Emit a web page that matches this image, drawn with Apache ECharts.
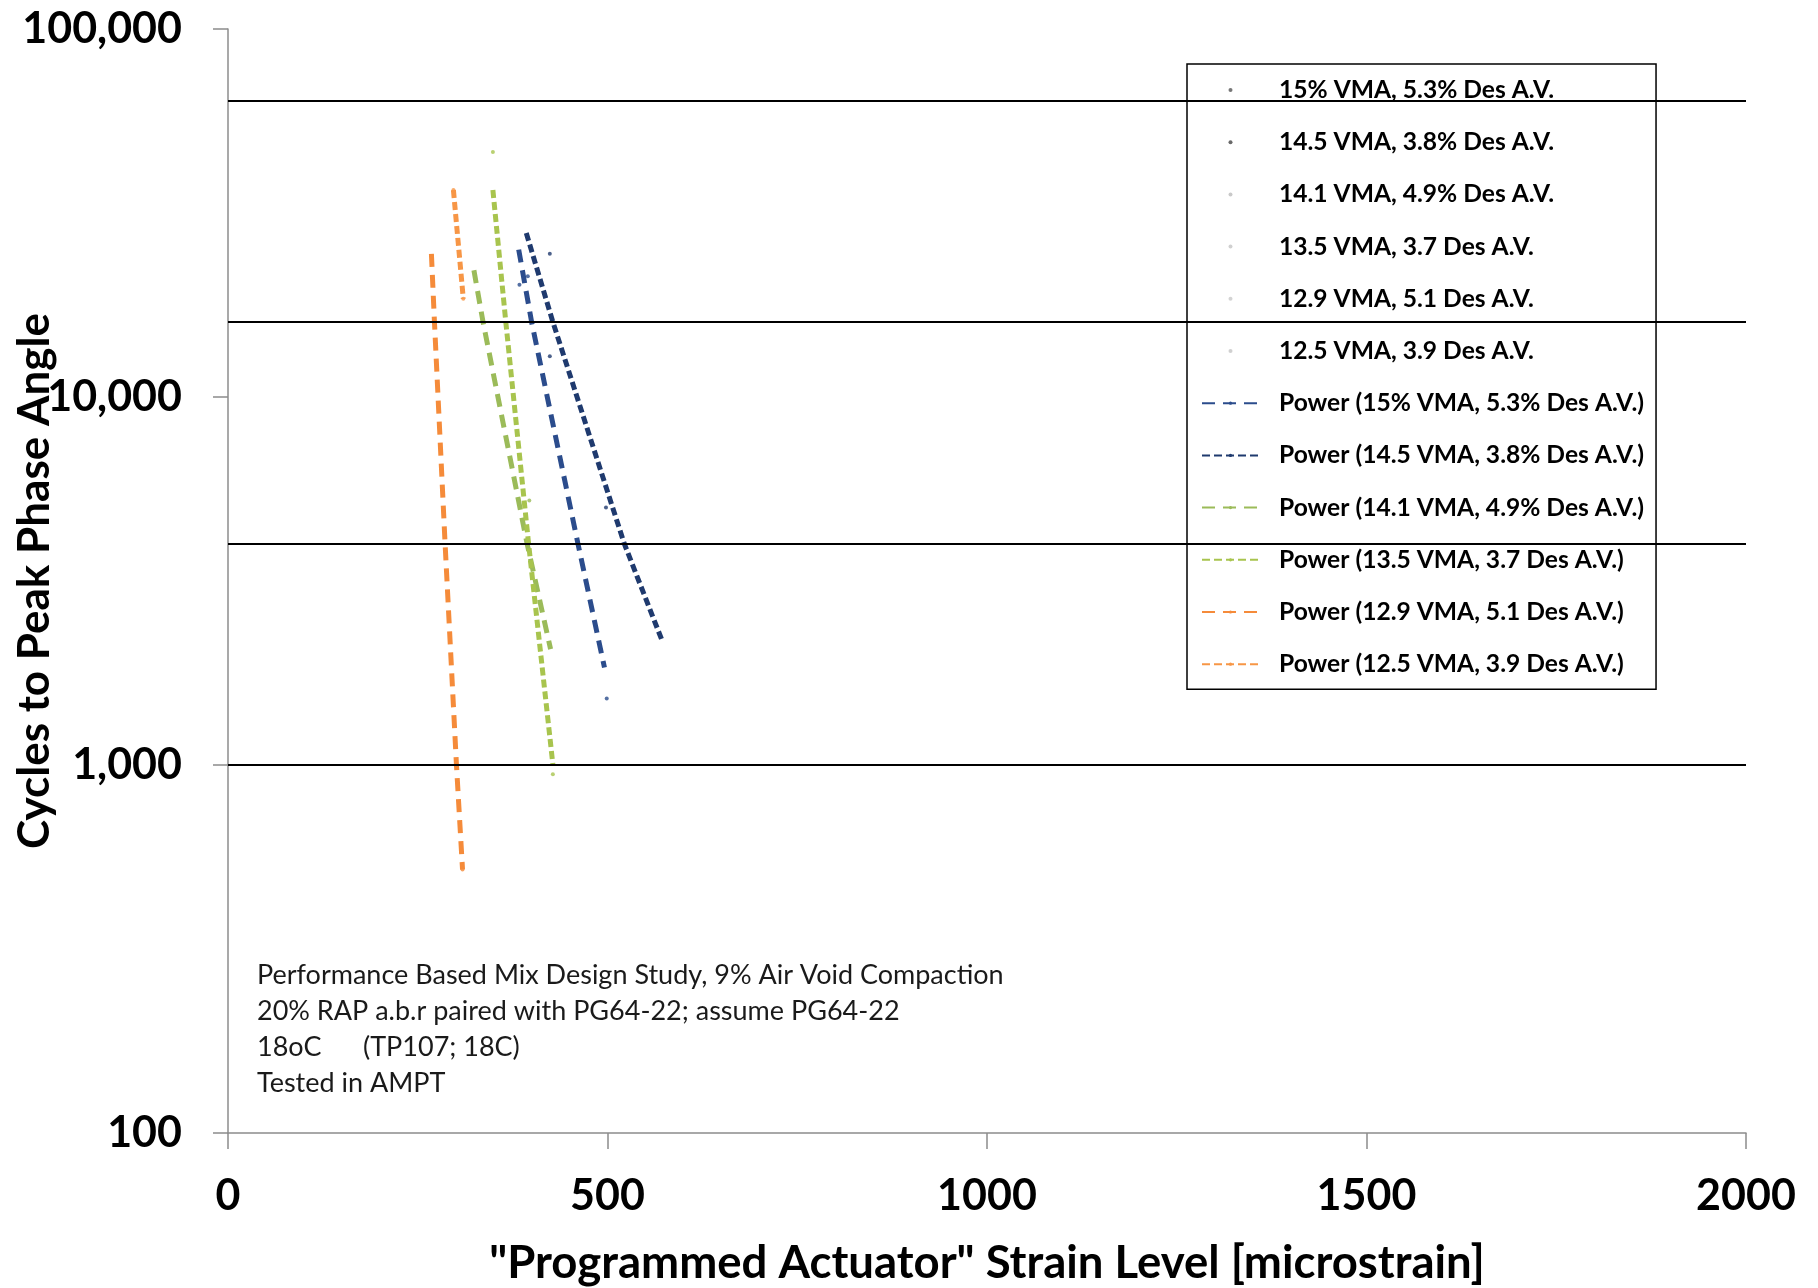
<!DOCTYPE html>
<html>
<head>
<meta charset="utf-8">
<script src="https://cdn.jsdelivr.net/npm/echarts@6/dist/echarts.min.js"></script>
<style>
  html, body { margin: 0; padding: 0; background: #ffffff; }
  #chart { width: 1818px; height: 1288px; }
</style>
</head>
<body>
<div id="chart"></div>
<script>
// Mix designs (scatter series names)
const mixNames = [
  '15% VMA, 5.3% Des A.V.',
  '14.5 VMA, 3.8% Des A.V.',
  '14.1 VMA, 4.9% Des A.V.',
  '13.5 VMA, 3.7 Des A.V.',
  '12.9 VMA, 5.1 Des A.V.',
  '12.5 VMA, 3.9 Des A.V.'
];

// Measured points: [strain (microstrain), cycles to peak phase angle]
const pts15  = [[384, 20200], [395, 21300], [499, 1515]];
const pts145 = [[424, 24500], [424, 12900], [498, 5010]];
const pts141 = [[397, 5230]];
const pts135 = [[349, 46300], [428, 944]];
const pts129 = [[309, 520]];
const pts125 = [[297, 36500], [310, 18500]];

// Power trendlines: points along each fitted curve
const trend15  = [[383, 25150], [400, 16000], [461, 4000], [496, 1840]];
const trend145 = [[393, 27900], [428, 16000], [522, 4000], [573, 2150]];
const trend141 = [[324, 22100], [336, 16000], [394, 4000], [425, 2065]];
const trend135 = [[349, 36500], [366, 16000], [396, 4000], [428, 1004]];
const trend129 = [[268, 24500], [272, 16000], [286, 4000], [301, 1000], [309, 520]];
const trend125 = [[297, 36500], [310, 18500]];

// Horizontal reference levels
const gridLevels = [1000, 4000, 16000, 64000];

// Axis ranges and tick labels
const xMin = 0, xMax = 2000, xStep = 500;
const yTickValues = [100, 1000, 10000, 100000];
const yTickLabels = ['100', '1,000', '10,000', '100,000'];

// Note block
const noteLines = [
  'Performance Based Mix Design Study, 9% Air Void Compaction',
  '20% RAP a.b.r paired with PG64-22; assume PG64-22',
  '18oC      (TP107; 18C)',
  'Tested in AMPT'
];

const FONT = 'Lato, "Open Sans", sans-serif';
const BLUE_A = '#2B4C8C', BLUE_B = '#1F3A6E';
const GREEN_A = '#9BBB59', GREEN_B = '#A8C44E';
const ORANGE_A = '#F58B3A', ORANGE_B = '#F79646';
const LONG_DASH = [13, 8];
const SHORT_DASH = [8, 4];

const scatterSets = [pts15, pts145, pts141, pts135, pts129, pts125];
const scatterColors = [BLUE_A, BLUE_B, GREEN_A, GREEN_B, ORANGE_A, ORANGE_B];
const legendDotColors = ['#555555', '#444444', '#bbbbbb', '#c4c4c4', '#c8c8c8', '#c4c4c4'];

const trendSets = [trend15, trend145, trend141, trend135, trend129, trend125];
const trendColors = [BLUE_A, BLUE_B, GREEN_A, GREEN_B, ORANGE_A, ORANGE_B];
const trendDash = [LONG_DASH, SHORT_DASH, LONG_DASH, SHORT_DASH, LONG_DASH, SHORT_DASH];
const trendNames = mixNames.map(n => 'Power (' + n + ')');

const series = [];

// Reference level lines, drawn underneath everything
series.push({
  name: 'levels',
  type: 'line',
  data: [],
  silent: true,
  z: 1,
  markLine: {
    silent: true,
    symbol: ['none', 'none'],
    label: { show: false },
    lineStyle: { color: '#000000', width: 2, type: 'solid' },
    data: gridLevels.map(v => ({ yAxis: v }))
  }
});

mixNames.forEach((name, i) => {
  series.push({
    name: name,
    type: 'scatter',
    data: scatterSets[i],
    symbol: 'circle',
    symbolSize: 4,
    itemStyle: { color: scatterColors[i] },
    z: 3
  });
});

trendNames.forEach((name, i) => {
  series.push({
    name: name,
    type: 'line',
    data: trendSets[i],
    symbol: 'none',
    smooth: false,
    lineStyle: { color: trendColors[i], width: 5, type: trendDash[i], cap: 'butt' },
    itemStyle: { color: trendColors[i] },
    z: 4
  });
});

const legendData = mixNames.map((n, i) => ({
  name: n,
  itemStyle: { color: legendDotColors[i] }
})).concat(trendNames.map(n => ({ name: n })));

const chart = echarts.init(document.getElementById('chart'), null, { renderer: 'canvas' });

chart.setOption({
  animation: false,
  backgroundColor: '#ffffff',
  grid: {
    left: 228, right: 72, top: 29, bottom: 155,
    containLabel: false,
    outerBoundsMode: 'none'
  },
  xAxis: {
    type: 'value',
    min: xMin,
    max: xMax,
    interval: xStep,
    name: '"Programmed Actuator" Strain Level [microstrain]',
    nameLocation: 'middle',
    nameGap: 107,
    nameMoveOverlap: false,
    nameTextStyle: { fontFamily: FONT, fontWeight: 'bold', fontSize: 45.5, color: '#000' },
    axisLine: { show: true, lineStyle: { color: '#8c8c8c', width: 1.5 } },
    axisTick: { show: true, inside: false, length: 16, lineStyle: { color: '#8c8c8c', width: 1.5 } },
    axisLabel: {
      fontFamily: FONT, fontWeight: 'bold', fontSize: 43, color: '#000', margin: 42,
      formatter: v => String(v)
    },
    splitLine: { show: false }
  },
  yAxis: {
    type: 'log',
    logBase: 10,
    min: yTickValues[0],
    max: yTickValues[yTickValues.length - 1],
    name: 'Cycles to Peak Phase Angle',
    nameLocation: 'middle',
    nameGap: 171,
    nameRotate: 90,
    nameMoveOverlap: false,
    nameTextStyle: { fontFamily: FONT, fontWeight: 'bold', fontSize: 44, color: '#000' },
    axisLine: { show: true, lineStyle: { color: '#8c8c8c', width: 1.5 } },
    axisTick: { show: true, inside: false, length: 15, lineStyle: { color: '#8c8c8c', width: 1.5 } },
    axisLabel: {
      fontFamily: FONT, fontWeight: 'bold', fontSize: 43, color: '#000', margin: 46,
      formatter: v => {
        const idx = yTickValues.findIndex(t => Math.abs(t - v) / t < 1e-6);
        return idx >= 0 ? yTickLabels[idx] : '';
      }
    },
    splitLine: { show: false }
  },
  legend: {
    data: legendData,
    orient: 'vertical',
    left: 1187,
    top: 64,
    padding: [11, 12, 10, 14],
    itemWidth: 57,
    itemHeight: 4,
    itemGap: 22.2,
    align: 'left',
    backgroundColor: '#ffffff',
    borderColor: '#000000',
    borderWidth: 1.5,
    borderRadius: 0,
    selectedMode: false,
    textStyle: {
      fontFamily: FONT, fontWeight: 'bold', fontSize: 24.6, color: '#000',
      lineHeight: 30, padding: [0, 0, 0, 15]
    }
  },
  graphic: [{
    type: 'text',
    left: 257,
    top: 957,
    silent: true,
    style: {
      text: noteLines.join('\n'),
      fontFamily: FONT,
      fontSize: 27,
      lineHeight: 36,
      fill: '#1a1a1a'
    }
  }],
  series: series
});
</script>
</body>
</html>
